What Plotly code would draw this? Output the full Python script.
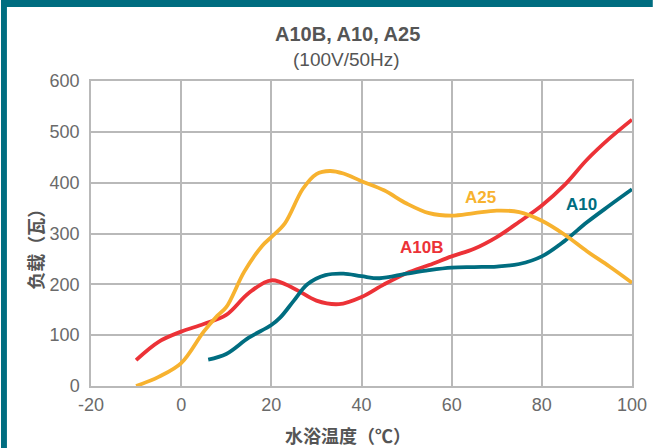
import plotly.graph_objects as go

# water bath temperature (°C) and load (W)
a10b_temp = [-10, -5, 0, 5, 10, 15, 20, 25, 30, 35, 40, 45, 50, 55, 60, 65, 70, 75, 80, 85, 90, 95, 100]
a10b_load = [51, 87, 107, 122, 140, 183, 208, 192, 168, 161, 175, 200, 222, 238, 255, 270, 293, 323, 355, 395, 445, 487, 524]

a10_temp = [6, 10, 15, 20, 22, 25, 28, 32, 36, 40, 44, 50, 55, 60, 65, 70, 75, 80, 85, 90, 95, 100]
a10_load = [52, 63, 95, 120, 135, 168, 200, 218, 221, 216, 212, 221, 228, 233, 234, 235, 240, 255, 285, 322, 355, 387]

a25_temp = [-10, -5, 0, 5, 8, 10, 14, 18, 20, 23, 27, 30, 33, 36, 40, 45, 50, 55, 60, 65, 70, 75, 80, 85, 90, 95, 100]
a25_load = [0, 18, 45, 107, 138, 155, 225, 276, 293, 320, 388, 417, 423, 418, 403, 385, 359, 340, 335, 340, 345, 342, 325, 298, 265, 235, 203]

x_ticks = [-20, 0, 20, 40, 60, 80, 100]
x_tick_labels = ["-20", "0", "20", "40", "60", "80", "100"]

RED = "#ec3237"
TEAL = "#006d80"
YELLOW = "#f7b22f"
GRID = "#b9b9b9"
TEXT = "#555555"
FONT = "Liberation Sans, Arial"
CJK = "Noto Sans CJK SC"

W, H = 659, 448
ML, MR, MT, MB = 91, 21, 81, 62
PW, PH = W - ML - MR, H - MT - MB


def px_x(p):
    return (p - ML) / PW


def px_y(p):
    return (H - MB - p) / PH


def paper_text(x, y, text, size, family, **kw):
    fig.add_annotation(
        x=px_x(x), y=px_y(y), xref="paper", yref="paper", text=text,
        xanchor="center", yanchor="middle", showarrow=False,
        font={"size": size, "color": TEXT, "family": family}, **kw,
    )


fig = go.Figure()
for temp, load, color, name in [
    (a10b_temp, a10b_load, RED, "A10B"),
    (a10_temp, a10_load, TEAL, "A10"),
    (a25_temp, a25_load, YELLOW, "A25"),
]:
    fig.add_trace(
        go.Scatter(
            x=temp,
            y=load,
            mode="lines",
            line={"color": color, "width": 3.8, "shape": "spline", "smoothing": 1.0},
            name=name,
            cliponaxis=False,
        )
    )

labels = [("A25", 66.3, 371, YELLOW), ("A10", 88.9, 357, TEAL), ("A10B", 53.4, 273, RED)]
for text, x, y, color in labels:
    fig.add_annotation(
        x=x, y=y, text=f"<b>{text}</b>", showarrow=False, xanchor="center", yanchor="middle",
        font={"color": color, "size": 17, "family": FONT},
    )

paper_text(350, 34, "<b>A10B, A10, A25</b>", 20, FONT)
paper_text(349, 60, "(100V/50Hz)", 19, FONT)
paper_text(351, 435, "<b>水浴温度（℃）</b>", 18, CJK)
paper_text(34, 245, "<b>负载（瓦）</b>", 18, CJK, textangle=-90)

# teal frame on top and left edge
fig.add_shape(type="rect", xref="paper", yref="paper", x0=px_x(0), x1=px_x(W), y0=px_y(7), y1=px_y(0),
              fillcolor=TEAL, line={"width": 0}, layer="below")
fig.add_shape(type="rect", xref="paper", yref="paper", x0=px_x(0), x1=px_x(6), y0=px_y(H), y1=px_y(0),
              fillcolor=TEAL, line={"width": 0}, layer="below")

fig.update_xaxes(
    range=[-20, 100], tickvals=x_ticks, ticktext=x_tick_labels,
    showgrid=True, gridcolor=GRID, gridwidth=1.5,
    showline=True, linecolor=GRID, linewidth=1.5, zeroline=False, ticks="",
    ticklabelstandoff=2,
    tickfont={"size": 18, "color": "#6a6a6a", "family": FONT},
    mirror=True,
)
fig.update_yaxes(
    range=[0, 600], dtick=100, showgrid=True, gridcolor=GRID, gridwidth=1.5,
    showline=True, linecolor=GRID, linewidth=1.5, zeroline=False, ticks="",
    ticklabelstandoff=6,
    tickfont={"size": 18, "color": "#6a6a6a", "family": FONT},
    mirror=True,
)
fig.update_layout(
    width=W, height=H, showlegend=False,
    margin={"l": ML, "r": MR, "t": MT, "b": MB},
    plot_bgcolor="white", paper_bgcolor="white",
)
fig.write_html(
    "out.html",
    config={"displayModeBar": False},
    post_script="document.body.style.margin = '0';",
)
